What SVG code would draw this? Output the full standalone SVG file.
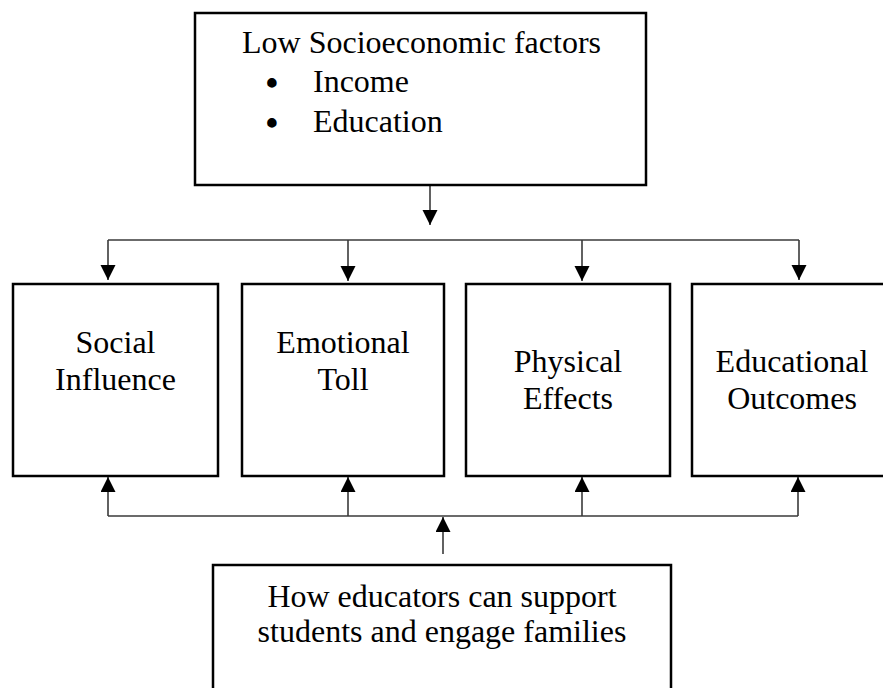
<svg xmlns="http://www.w3.org/2000/svg" width="883" height="688" viewBox="0 0 883 688">
<style>
.box{fill:#fff;stroke:#000;stroke-width:2.5}
.t{font-family:"Liberation Serif","Times New Roman",serif;font-size:32px;fill:#000}
.c{text-anchor:middle}
.b{font-size:35px;font-weight:bold}
.ln{fill:none;stroke:#3a3a3a;stroke-width:1.6}
</style>
<defs>
<marker id="ah" markerUnits="userSpaceOnUse" markerWidth="16" markerHeight="16" refX="15" refY="7.5" orient="auto">
<path d="M0,0 L15,7.5 L0,15 z" fill="#000"/>
</marker>
</defs>
<rect width="883" height="688" fill="#fff"/>
<g id="connectors">
<line class="ln" x1="430" y1="186" x2="430" y2="225" marker-end="url(#ah)"/>
<line class="ln" x1="108" y1="240" x2="799" y2="240"/>
<line class="ln" x1="108" y1="240" x2="108" y2="280" marker-end="url(#ah)"/>
<line class="ln" x1="348" y1="240" x2="348" y2="281" marker-end="url(#ah)"/>
<line class="ln" x1="582" y1="240" x2="582" y2="281" marker-end="url(#ah)"/>
<line class="ln" x1="799" y1="240" x2="799" y2="280" marker-end="url(#ah)"/>
<line class="ln" x1="108" y1="516" x2="798" y2="516"/>
<line class="ln" x1="108" y1="516" x2="108" y2="477" marker-end="url(#ah)"/>
<line class="ln" x1="348" y1="516" x2="348" y2="477" marker-end="url(#ah)"/>
<line class="ln" x1="582" y1="516" x2="582" y2="477" marker-end="url(#ah)"/>
<line class="ln" x1="798" y1="516" x2="798" y2="477" marker-end="url(#ah)"/>
<line class="ln" x1="443" y1="554" x2="443" y2="517" marker-end="url(#ah)"/>
</g>
<g id="node-top">
<rect class="box" x="195" y="13" width="451" height="172"/>
<text class="t" x="242" y="53">Low Socioeconomic factors</text>
<text class="t c b" x="272" y="95">•</text>
<text class="t" x="313" y="92">Income</text>
<text class="t c b" x="272" y="135">•</text>
<text class="t" x="313" y="132">Education</text>
</g>
<g id="node-social">
<rect class="box" x="13" y="284" width="205" height="192"/>
<text class="t c" x="115.5" y="353">Social</text>
<text class="t c" x="115.5" y="390">Influence</text>
</g>
<g id="node-emotional">
<rect class="box" x="242" y="284" width="202" height="192"/>
<text class="t c" x="343" y="353">Emotional</text>
<text class="t c" x="343" y="390">Toll</text>
</g>
<g id="node-physical">
<rect class="box" x="466" y="284" width="204" height="192"/>
<text class="t c" x="568" y="372">Physical</text>
<text class="t c" x="568" y="409">Effects</text>
</g>
<g id="node-educational">
<rect class="box" x="692" y="284" width="204" height="192"/>
<text class="t c" x="792" y="372">Educational</text>
<text class="t c" x="792" y="409">Outcomes</text>
</g>
<g id="node-educators">
<rect class="box" x="213" y="565" width="458" height="140"/>
<text class="t c" x="442" y="607">How educators can support</text>
<text class="t c" x="442" y="642">students and engage families</text>
</g>
</svg>
